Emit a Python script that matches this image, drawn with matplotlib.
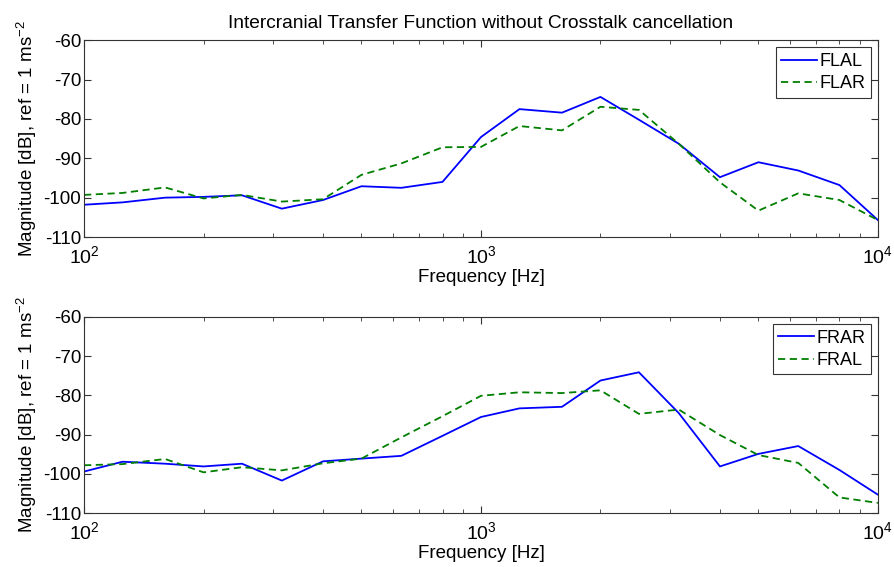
import matplotlib
matplotlib.use("Agg")
import matplotlib.pyplot as plt
from matplotlib.ticker import LogLocator, FixedLocator

# third-octave band centre frequencies
freqs = [100, 125, 160, 200, 250, 315, 400, 500, 630, 800, 1000,
         1250, 1600, 2000, 2500, 3150, 4000, 5000, 6300, 8000, 10000]

flal = [-101.8, -101.2, -100.0, -99.8, -99.4, -102.8, -100.6, -97.1, -97.5, -96.0, -84.6,
        -77.5, -78.4, -74.4, -80.2, -86.3, -94.8, -91.0, -93.1, -96.8, -105.7]
flar = [-99.3, -98.8, -97.4, -100.2, -99.3, -101.0, -100.4, -94.2, -91.3, -87.2, -87.1,
        -81.8, -82.9, -76.9, -77.7, -86.3, -96.1, -103.3, -98.9, -100.6, -105.7]

frar = [-99.4, -96.9, -97.4, -98.1, -97.4, -101.7, -96.8, -96.1, -95.4, -90.3, -85.5,
        -83.3, -82.9, -76.2, -74.1, -84.5, -98.1, -94.9, -92.9, -99.0, -105.3]
fral = [-97.8, -97.5, -96.2, -99.6, -98.3, -99.1, -97.3, -96.1, -90.7, -85.3, -80.1,
        -79.2, -79.4, -78.7, -84.7, -83.6, -90.1, -95.2, -97.2, -106.0, -107.4]

yticks = [-110, -100, -90, -80, -70, -60]

plt.rcParams["font.family"] = ["Liberation Sans", "DejaVu Sans"]
plt.rcParams["mathtext.fontset"] = "custom"
plt.rcParams["mathtext.rm"] = "Liberation Sans"

fig = plt.figure(figsize=(8.94, 5.67), dpi=100)
ax1 = fig.add_axes([0.094, 0.582, 0.888, 0.347])
ax2 = fig.add_axes([0.094, 0.095, 0.888, 0.346])


def style(ax, a, b, la, lb):
    ax.semilogx(freqs, a, color="#0000ff", lw=1.3, label=la)
    ax.semilogx(freqs, b, color="#007f00", lw=1.3, ls=(0, (4, 2.5)), label=lb)
    ax.set_xlim(100, 10000)
    ax.set_ylim(-110, -60)
    ax.set_yticks(yticks)
    ax.set_yticklabels([str(v) for v in yticks], fontsize=13.5)
    ax.xaxis.set_major_locator(FixedLocator([100, 1000, 10000]))
    ax.set_xticklabels(["$\\mathrm{10^2}$", "$\\mathrm{10^3}$", "$\\mathrm{10^4}$"], fontsize=14)
    ax.xaxis.set_minor_locator(LogLocator(base=10, subs=range(2, 10)))
    ax.tick_params(which="both", direction="in", top=True, right=True, colors="#333333",
                   labelcolor="black")
    ax.tick_params(which="major", length=5)
    ax.tick_params(which="minor", length=3)
    ax.tick_params(axis="x", pad=6)
    ax.tick_params(axis="y", pad=2)
    for s in ax.spines.values():
        s.set_color("#333333")
        s.set_linewidth(0.8)
    ax.set_xlabel("Frequency [Hz]", fontsize=13.5, labelpad=1)
    ax.set_ylabel("Magnitude [dB], ref = 1 ms$^{\\mathrm{-2}}$", fontsize=13.5, labelpad=3)
    leg = ax.legend(loc="upper right", fontsize=13, frameon=True, fancybox=False,
                    handlelength=2.0, handletextpad=0.1, borderpad=0.3,
                    labelspacing=0.3, borderaxespad=0.4)
    leg.get_frame().set_edgecolor("black")
    leg.get_frame().set_linewidth(0.8)


style(ax1, flal, flar, "FLAL", "FLAR")
style(ax2, frar, fral, "FRAR", "FRAL")
ax1.set_title("Intercranial Transfer Function without Crosstalk cancellation",
              fontsize=13.8, pad=9)

fig.savefig("out.png", dpi=100)
